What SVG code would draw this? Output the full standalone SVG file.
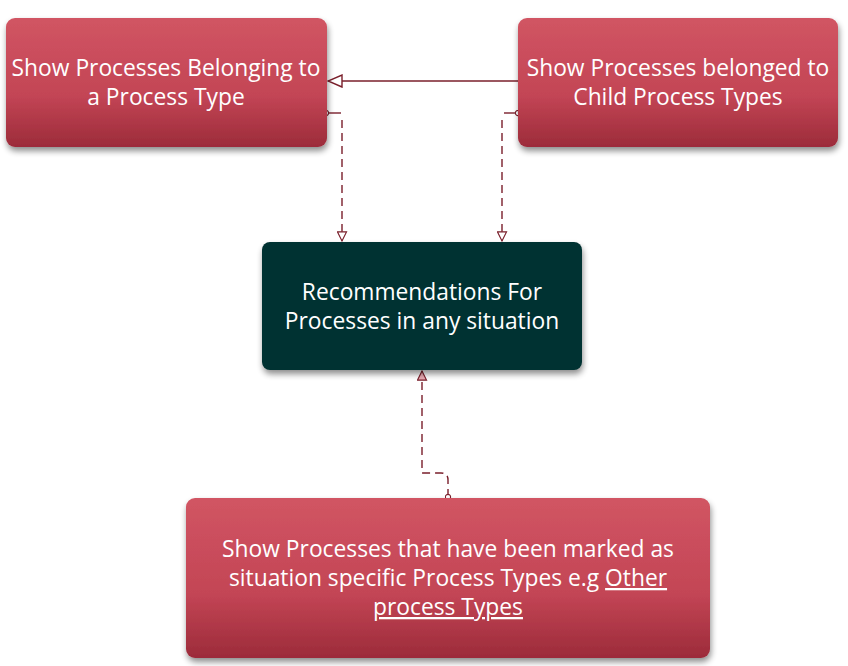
<svg xmlns="http://www.w3.org/2000/svg" width="848" height="666" viewBox="0 0 848 666">
<defs>
<linearGradient id="red" x1="0" y1="0" x2="0" y2="1">
<stop offset="0" stop-color="#d15563"/>
<stop offset="0.6" stop-color="#c34555"/>
<stop offset="1" stop-color="#9c2b3a"/>
</linearGradient>
<filter id="sh" x="-10%" y="-10%" width="125%" height="130%">
<feGaussianBlur in="SourceAlpha" stdDeviation="3"/>
<feOffset dx="1" dy="4"/>
<feComponentTransfer><feFuncA type="linear" slope="0.45"/></feComponentTransfer>
<feMerge><feMergeNode/><feMergeNode in="SourceGraphic"/></feMerge>
</filter>
<marker id="tri" viewBox="0 0 16 14" refX="15" refY="7" markerWidth="16" markerHeight="14" markerUnits="userSpaceOnUse" orient="auto">
<path d="M1,1 L15,7 L1,13 Z" fill="#ffffff" stroke="#7a1f2b" stroke-width="1.4"/>
</marker>
<marker id="triS" viewBox="0 0 12 12" refX="11" refY="6" markerWidth="11" markerHeight="11" markerUnits="userSpaceOnUse" orient="auto">
<path d="M1,1 L11,6 L1,11 Z" fill="#ffffff" stroke="#7a1f2b" stroke-width="1.2"/>
</marker>
<marker id="triP" viewBox="0 0 12 12" refX="11" refY="6" markerWidth="11" markerHeight="11" markerUnits="userSpaceOnUse" orient="auto">
<path d="M1,1 L11,6 L1,11 Z" fill="#e7aab2" stroke="#7a1f2b" stroke-width="1.2"/>
</marker>
<marker id="dot" viewBox="0 0 8 8" refX="4" refY="4" markerWidth="7" markerHeight="7" markerUnits="userSpaceOnUse">
<circle cx="4" cy="4" r="3" fill="#ffffff" stroke="#7a1f2b" stroke-width="1.2"/>
</marker>
</defs>
<style>
.red{fill:url(#red);filter:url(#sh)}
.dark{fill:#003030;filter:url(#sh)}
text{font-family:"Open Sans","Liberation Sans",sans-serif;font-size:22.8px;fill:#ffffff;text-anchor:middle}
.c{fill:none;stroke:#7a1f2b;stroke-width:1.4}
.d{stroke-dasharray:8,5}
</style>
<rect width="848" height="666" fill="#ffffff"/>
<g id="connectors">
<line class="c" x1="518" y1="81" x2="328" y2="81" marker-end="url(#tri)"/>
<path class="c" d="M326,113 H341" marker-start="url(#dot)"/>
<path class="c d" d="M342,120 V241" marker-end="url(#triS)"/>
<path class="c" d="M518,113 H504" marker-start="url(#dot)"/>
<path class="c d" d="M502,120 V241" marker-end="url(#triS)"/>
<path class="c d" d="M448,497 V480 Q448,473 441,473 H422 V371" marker-start="url(#dot)" marker-end="url(#triP)"/>
</g>
<g id="node1">
<rect class="red" x="6" y="18" width="321" height="129" rx="9"/>
<text x="166" y="76">Show Processes Belonging to</text>
<text x="166" y="105">a Process Type</text>
</g>
<g id="node2">
<rect class="red" x="518" y="18" width="320" height="129" rx="9"/>
<text x="678" y="76">Show Processes belonged to</text>
<text x="678" y="105">Child Process Types</text>
</g>
<g id="node3">
<rect class="dark" x="262" y="242" width="320" height="128" rx="8"/>
<text x="422" y="300">Recommendations For</text>
<text x="422" y="329">Processes in any situation</text>
</g>
<g id="node4">
<rect class="red" x="186" y="498" width="524" height="160" rx="9"/>
<text x="448" y="557">Show Processes that have been marked as</text>
<text x="448" y="586">situation specific Process Types e.g <tspan text-decoration="underline">Other</tspan></text>
<text x="448" y="615" text-decoration="underline">process Types</text>
</g>
</svg>
